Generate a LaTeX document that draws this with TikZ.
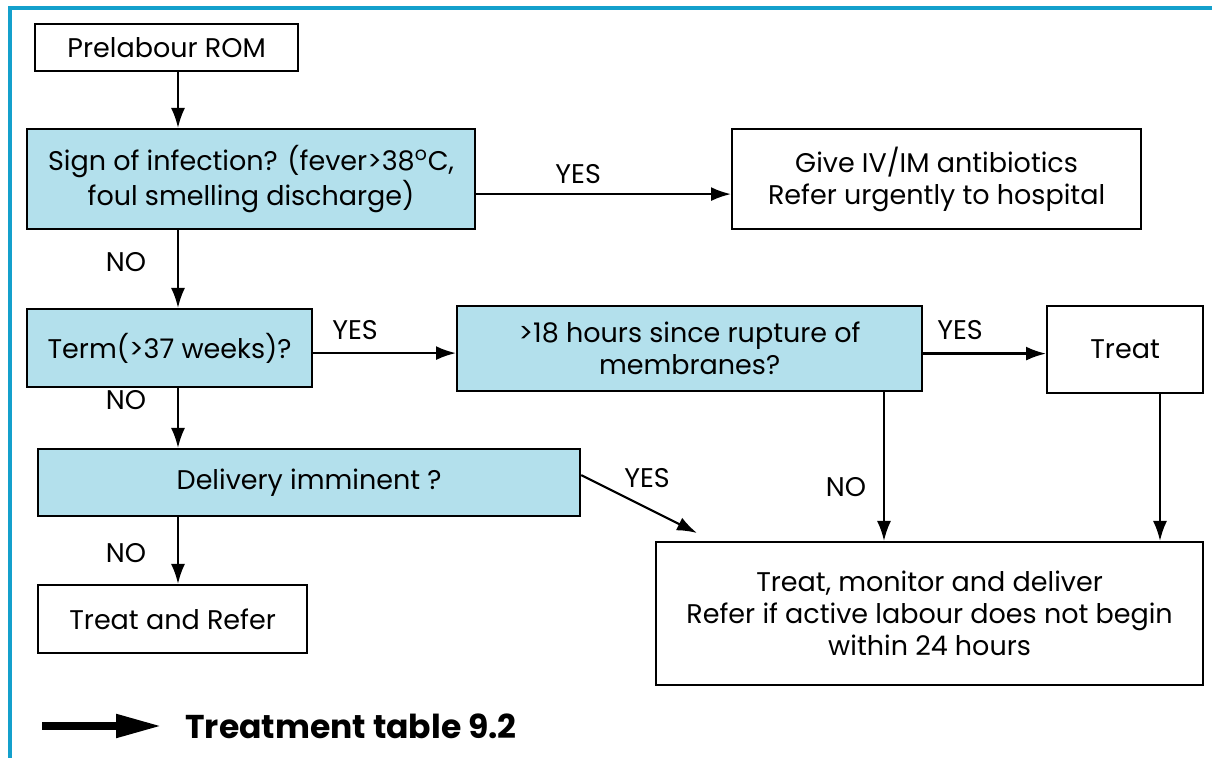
\documentclass[tikz,border=0pt]{standalone}
\usepackage{fontspec}
\setmainfont{Poppins}
\usetikzlibrary{arrows.meta, positioning}

\definecolor{frameblue}{RGB}{20,160,204}
\definecolor{askfill}{RGB}{179,224,236}

\begin{document}
\begin{tikzpicture}[>={Latex[length=10pt, width=7pt]}, x=0.5pt, y=-0.5pt,
    font=\fontsize{13.5}{16}\selectfont,
    box/.style={draw, line width=1.1pt, inner sep=0pt, align=center, anchor=north west},
    ask/.style={box, fill=askfill},
    flow/.style={->, line width=1.1pt},
    answer/.style={inner sep=0pt}]

    % --- 1. Frame ---
    \useasboundingbox (0,0) rectangle (1212,758);
    \draw[frameblue, line width=2pt] (10,758) -- (10,8) -- (1212,8);

    % Spine of the left column
    \coordinate (spine) at (178,0);

    % --- 2. Boxes ---
    \node[box, minimum width=131.5pt, minimum height=23.5pt] (prelabour) at (34,23) {Prelabour ROM};
    \node[ask, minimum width=224pt, minimum height=50pt] (infection) at (26,128)
        {Sign of infection? (fever>38\textsuperscript{o}C,\\foul smelling discharge)};
    \node[box, minimum width=204.5pt, minimum height=50pt] (antibiotics) at (731,128)
        {Give IV/IM antibiotics\\Refer urgently to hospital};
    \node[ask, minimum width=142.5pt, minimum height=39pt] (term) at (26,308) {Term(>37 weeks)?};
    \node[ask, minimum width=232.5pt, minimum height=42.5pt] (hours) at (456,305)
        {>18 hours since rupture of\\membranes?};
    \node[box, minimum width=78pt, minimum height=43.5pt] (treat) at (1046,305) {Treat};
    \node[ask, minimum width=271pt, minimum height=33.5pt] (imminent) at (37,448) {Delivery imminent ?};
    \node[box, minimum width=273.5pt, minimum height=71.5pt] (deliver) at (655,541)
        {Treat, monitor and deliver\\Refer if active labour does not begin\\within 24 hours};
    \node[box, minimum width=134.5pt, minimum height=34pt] (refer) at (37,584) {Treat and Refer};

    % --- 3. Connectors ---
    \draw[flow] (prelabour.south -| spine) -- (infection.north -| spine);
    \draw[flow] ([yshift=-7.5pt]infection.east) -- ([yshift=-7.5pt]antibiotics.west)
        node[answer, pos=0.4, yshift=10pt] (yes1) {YES};
    \draw[flow] (infection.south -| spine) -- (term.north -| spine);
    \node[answer] (no1) at (126,262) {NO};
    \draw[flow] ([yshift=-2.5pt]term.east) -- ([yshift=-2.5pt]term.east -| hours.west);
    \node[answer] (yes2) at (355,330) {YES};
    \draw[flow] ([yshift=-2.5pt]hours.east) -- ([yshift=-2.5pt]hours.east -| treat.west);
    \node[answer] (yes3) at (960,330) {YES};
    \draw[flow] (term.south -| spine) -- (imminent.north -| spine);
    \node[answer] (no2) at (126,400) {NO};
    \draw[flow] (imminent.south -| spine) -- (refer.north -| spine);
    \node[answer] (no3) at (126,553) {NO};

    \coordinate (hoursDrop) at (884,0);
    \coordinate (treatDrop) at (1160,0);
    \draw[flow] (hours.south -| hoursDrop) -- (deliver.north -| hoursDrop);
    \node[answer] (no4) at (846,487) {NO};
    \draw[flow] (treat.south -| treatDrop) -- (deliver.north -| treatDrop);

    \coordinate (diagEnd) at (697,533);
    \draw[flow] ([yshift=3.75pt]imminent.east) -- (diagEnd);
    \node[answer] (yes4) at (647,478) {YES};

    % --- 4. Reference to treatment table ---
    \coordinate (keyStart) at (42,726);
    \coordinate (keyEnd) at (162,726);
    \draw[line width=4pt, -{Triangle[length=23pt, width=11pt]}] (keyStart) -- (keyEnd);
    \node[anchor=west, inner sep=0pt, font=\fontsize{16.5}{18}\selectfont\bfseries] (table)
        at (185,726) {Treatment table 9.2};

\end{tikzpicture}
\end{document}
